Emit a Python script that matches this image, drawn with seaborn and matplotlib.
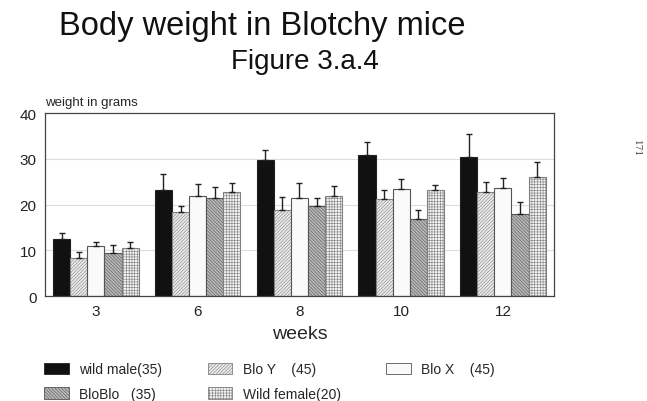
import numpy as np
import pandas as pd
import matplotlib
matplotlib.use("Agg")
import matplotlib.pyplot as plt
import matplotlib.patches as mpatches
import seaborn as sns

# values
weeks = ["3", "6", "8", "10", "12"]
groups = ["wild male(35)", "Blo Y    (45)", "Blo X    (45)", "BloBlo   (35)", "Wild female(20)"]
means = {
    "wild male(35)":   [12.4, 23.2, 29.8, 30.8, 30.5],
    "Blo Y    (45)":   [8.4, 18.4, 18.9, 21.3, 22.7],
    "Blo X    (45)":   [10.9, 21.9, 21.4, 23.5, 23.7],
    "BloBlo   (35)":   [9.5, 21.5, 19.7, 16.8, 17.9],
    "Wild female(20)": [10.5, 22.7, 21.9, 23.3, 26.0],
}
errs = {
    "wild male(35)":   [1.4, 3.5, 2.2, 3.0, 5.0],
    "Blo Y    (45)":   [1.2, 1.3, 2.7, 2.0, 2.2],
    "Blo X    (45)":   [1.0, 2.6, 3.3, 2.0, 2.2],
    "BloBlo   (35)":   [1.6, 2.4, 1.7, 2.1, 2.6],
    "Wild female(20)": [1.4, 2.1, 2.1, 1.0, 3.4],
}

rows = []
for g in groups:
    for w, m in zip(weeks, means[g]):
        rows.append({"week": w, "group": g, "weight": m})
df = pd.DataFrame(rows)

sns.set_style("white")
plt.rcParams["font.family"] = ["Liberation Sans", "DejaVu Sans"]
plt.rcParams["hatch.linewidth"] = 0.4

styles = {
    "wild male(35)":   dict(fc="#111111", ec="#222222", hatch=""),
    "Blo Y    (45)":   dict(fc="#ebebeb", ec="#808080", hatch="//////////"),
    "Blo X    (45)":   dict(fc="#fafafa", ec="#555555", hatch=""),
    "BloBlo   (35)":   dict(fc="#b8b8b8", ec="#555555", hatch="\\\\\\\\\\\\\\\\\\\\"),
    "Wild female(20)": dict(fc="#f2f2f2", ec="#808080", hatch="++++++"),
}

fig = plt.figure(figsize=(6.47, 4.02), dpi=100)
ax = fig.add_axes([0.0696, 0.261, 0.7864, 0.455])

sns.barplot(data=df, x="week", y="weight", hue="group", order=weeks,
            hue_order=groups, errorbar=None, width=0.84, ax=ax, legend=False,
            linewidth=0.8)

for cont, g in zip(ax.containers, groups):
    xs, ys = [], []
    for bar in cont:
        bar.set_facecolor(styles[g]["fc"])
        bar.set_edgecolor(styles[g]["ec"])
        bar.set_hatch(styles[g]["hatch"])
        xs.append(bar.get_x() + bar.get_width() / 2)
        ys.append(bar.get_height())
    ax.errorbar(xs, ys, yerr=[np.zeros(len(ys)), errs[g]], fmt="none",
                ecolor="#222222", elinewidth=1.0, capsize=2.5, capthick=1.0, zorder=1)

ax.set_ylim(0, 40)
ax.set_xlim(-0.5, 4.5)
ax.set_yticks([0, 10, 20, 30, 40])
for yv in [10, 20, 30]:
    ax.axhline(yv, color="#dddddd", lw=0.8, zorder=0)
ax.set_axisbelow(True)
for s in ax.spines.values():
    s.set_color("#444444")
    s.set_linewidth(0.9)
ax.tick_params(axis="both", labelsize=11, colors="#222222", length=0, pad=6)
ax.set_xlabel("weeks", fontsize=14, labelpad=5)
ax.set_ylabel("")
ax.text(0.0, 1.03, "weight in grams", transform=ax.transAxes, fontsize=9.5,
        ha="left", va="bottom")

fig.text(0.405, 0.935, "Body weight in Blotchy mice", fontsize=23.5, ha="center",
         va="center", color="#111111")
fig.text(0.471, 0.845, "Figure 3.a.4", fontsize=20, ha="center", va="center",
         color="#111111")
fig.text(0.983, 0.63, "171", fontsize=6.5, rotation=270, ha="center", va="center",
         family="DejaVu Serif", color="#444444")

order = ["wild male(35)", "BloBlo   (35)", "Blo Y    (45)", "Wild female(20)", "Blo X    (45)"]
handles = [mpatches.Patch(facecolor=styles[g]["fc"], hatch=styles[g]["hatch"],
                          edgecolor=styles[g]["ec"], linewidth=0.6, label=g) for g in order]
fig.legend(handles=handles, loc="upper left", bbox_to_anchor=(0.06, 0.11),
           ncol=3, frameon=False, fontsize=10, handlelength=1.75, handleheight=0.9,
           columnspacing=3.3, labelspacing=0.75, handletextpad=0.75, borderaxespad=0)

fig.savefig("out.png", dpi=100)
